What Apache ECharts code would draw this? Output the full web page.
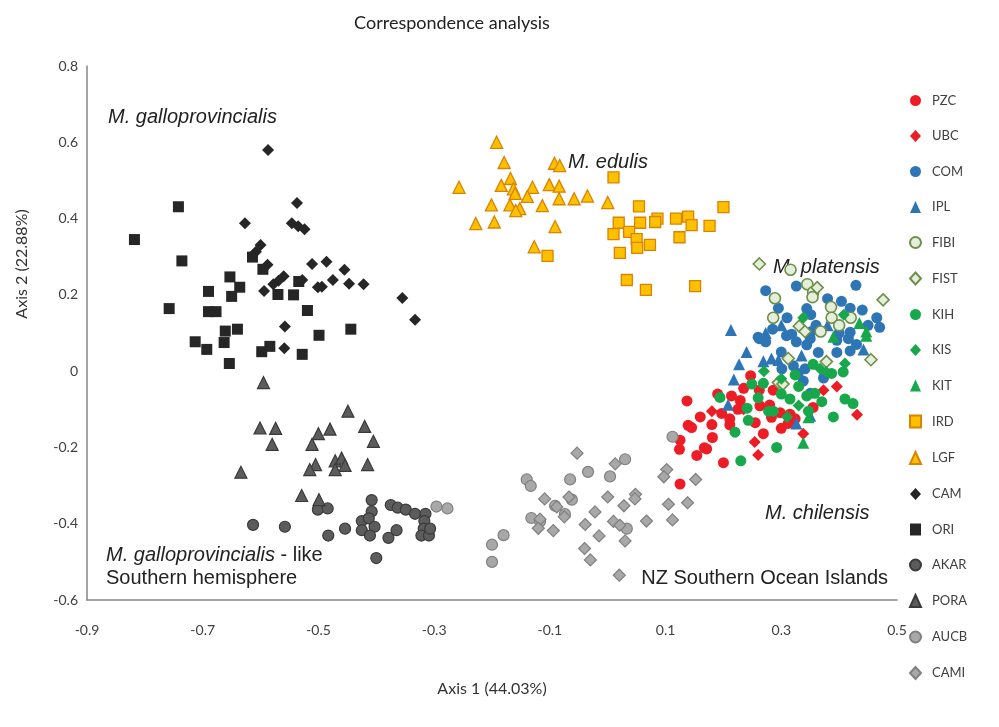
<!DOCTYPE html>
<html>
<head>
<meta charset="utf-8">
<script src="https://cdn.jsdelivr.net/npm/echarts@6/dist/echarts.min.js"></script>
<style>html,body{margin:0;padding:0;background:#fff}#c{width:999px;height:727px}</style>
</head>
<body>
<div id="c"></div>
<script>
const seriesNames = ['PZC','UBC','COM','IPL','FIBI','FIST','KIH','KIS','KIT','IRD','LGF','CAM','ORI','AKAR','PORA','AUCB','CAMI'];
const xTickLabels = ['-0.9','-0.7','-0.5','-0.3','-0.1','0.1','0.3','0.5'];

const PZC = [[0.137,-0.078],[0.139,-0.142],[0.145,-0.148],[0.125,-0.181],[0.124,-0.205],[0.154,-0.221],[0.125,-0.296],[0.167,-0.201],
 [0.247,-0.012],[0.262,-0.050],[0.214,-0.065],[0.229,-0.077],[0.197,-0.111],[0.211,-0.125],[0.211,-0.141],[0.263,-0.091],[0.283,-0.121],
 [0.269,-0.164],[0.181,-0.174],[0.171,-0.204],[0.286,-0.050],[0.280,-0.089],[0.298,-0.109],[0.315,-0.113],[0.324,-0.125],[0.312,-0.137],
 [0.200,-0.240],[0.355,-0.095],[0.190,-0.060],[0.235,-0.045],[0.255,-0.135],[0.225,-0.100],[0.300,-0.150],[0.160,-0.120],[0.180,-0.140]];
const UBC = [[0.180,-0.105],[0.254,-0.186],[0.396,-0.040],[0.373,-0.050],[0.431,-0.114],[0.338,-0.164],[0.260,-0.220],[0.235,-0.100]];
const COM = [[0.273,0.211],[0.260,0.089],[0.326,0.223],[0.429,0.225],[0.295,0.165],[0.344,0.164],[0.351,0.148],[0.404,0.183],[0.419,0.165],
 [0.450,0.120],[0.352,0.104],[0.419,0.102],[0.318,0.097],[0.262,0.085],[0.273,0.077],[0.309,0.093],[0.326,0.077],[0.350,0.085],[0.396,0.081],
 [0.416,0.085],[0.344,0.069],[0.364,0.049],[0.396,0.049],[0.419,0.053],[0.301,0.006],[0.321,0.014],[0.329,-0.006],[0.341,0.006],[0.338,-0.026],
 [0.373,-0.018],[0.350,-0.058],[0.465,0.140],[0.470,0.115],[0.380,0.190],[0.310,0.140],[0.440,0.160],[0.360,0.120],[0.400,0.100],
 [0.300,0.050],[0.430,0.070],[0.285,0.110]];
const IPL = [[0.213,0.108],[0.273,0.100],[0.227,0.018],[0.269,0.026],[0.283,0.033],[0.218,-0.022],[0.208,-0.088],[0.295,0.029],[0.335,0.041],
 [0.442,0.057],[0.326,-0.137],[0.350,-0.117],[0.380,0.120],[0.240,0.050],[0.300,0.120]];
const FIBI = [[0.289,0.191],[0.286,0.140],[0.316,0.266],[0.345,0.228],[0.355,0.207],[0.354,0.194],[0.386,0.168],[0.387,0.140],[0.368,0.104],
 [0.400,0.120],[0.420,0.140]];
const FIST = [[0.262,0.281],[0.362,0.219],[0.476,0.187],[0.331,0.118],[0.341,0.104],[0.312,0.033],[0.378,0.025],[0.455,0.030],[0.295,-0.030],[0.303,-0.034]];
const KIH = [[0.249,-0.034],[0.269,-0.032],[0.194,-0.069],[0.241,-0.097],[0.243,-0.129],[0.278,-0.105],[0.324,-0.010],[0.355,0.018],[0.387,-0.006],
 [0.407,-0.002],[0.315,-0.073],[0.344,-0.065],[0.358,-0.058],[0.347,-0.105],[0.410,-0.073],[0.424,-0.085],[0.286,-0.105],[0.292,-0.200],[0.230,-0.235],
 [0.300,-0.060],[0.330,-0.040],[0.370,-0.080],[0.260,-0.070],[0.390,-0.120],[0.220,-0.160]];
const KIS = [[0.338,0.140],[0.408,0.148],[0.367,0.006],[0.378,-0.002],[0.300,-0.020],[0.270,0.000],[0.330,-0.090],[0.310,-0.120],[0.410,0.020]];
const KIT = [[0.435,0.126],[0.447,0.104],[0.447,0.093],[0.347,-0.121],[0.338,-0.188],[0.390,0.090]];
const IRD = [[0.010,0.508],[0.054,0.432],[0.019,0.389],[0.056,0.389],[0.086,0.400],[0.082,0.391],[0.118,0.400],[0.139,0.405],[0.145,0.383],
 [0.176,0.381],[0.010,0.359],[0.037,0.365],[0.050,0.346],[0.051,0.323],[0.073,0.331],[0.124,0.351],[0.021,0.310],[-0.104,0.302],[0.033,0.239],
 [0.066,0.213],[0.151,0.223],[0.200,0.430]];
const LGF = [[-0.192,0.600],[-0.179,0.547],[-0.092,0.545],[-0.083,0.539],[-0.168,0.505],[-0.184,0.487],[-0.163,0.478],[-0.160,0.466],[-0.130,0.482],
 [-0.139,0.458],[-0.101,0.489],[-0.084,0.485],[-0.257,0.482],[-0.201,0.436],[-0.169,0.436],[-0.152,0.426],[-0.159,0.421],[-0.113,0.434],
 [-0.084,0.452],[-0.058,0.452],[-0.035,0.459],[0.000,0.442],[-0.228,0.387],[-0.196,0.391],[-0.091,0.379],[-0.127,0.326]];
const CAM = [[-0.587,0.580],[-0.537,0.441],[-0.627,0.388],[-0.546,0.388],[-0.535,0.380],[-0.524,0.372],[-0.600,0.331],[-0.608,0.313],[-0.588,0.279],
 [-0.511,0.281],[-0.486,0.287],[-0.455,0.266],[-0.560,0.249],[-0.569,0.237],[-0.578,0.228],[-0.528,0.239],[-0.475,0.239],[-0.494,0.221],
 [-0.501,0.220],[-0.447,0.229],[-0.422,0.228],[-0.594,0.210],[-0.558,0.117],[-0.355,0.192],[-0.333,0.135],[-0.559,0.060]];
const ORI = [[-0.742,0.431],[-0.818,0.345],[-0.736,0.289],[-0.653,0.247],[-0.614,0.299],[-0.596,0.267],[-0.636,0.220],[-0.650,0.196],[-0.690,0.209],
 [-0.570,0.201],[-0.543,0.200],[-0.534,0.235],[-0.758,0.164],[-0.690,0.156],[-0.677,0.156],[-0.519,0.159],[-0.661,0.105],[-0.640,0.110],
 [-0.444,0.110],[-0.499,0.094],[-0.713,0.077],[-0.693,0.057],[-0.663,0.075],[-0.598,0.051],[-0.584,0.065],[-0.528,0.044],[-0.654,0.020]];
const AKAR = [[-0.613,-0.403],[-0.558,-0.408],[-0.501,-0.363],[-0.484,-0.360],[-0.408,-0.338],[-0.408,-0.368],[-0.375,-0.351],[-0.363,-0.358],
 [-0.349,-0.363],[-0.333,-0.374],[-0.315,-0.374],[-0.483,-0.431],[-0.454,-0.413],[-0.425,-0.393],[-0.413,-0.386],[-0.403,-0.408],[-0.425,-0.417],
 [-0.411,-0.431],[-0.379,-0.437],[-0.365,-0.417],[-0.317,-0.393],[-0.318,-0.413],[-0.322,-0.431],[-0.309,-0.431],[-0.307,-0.413],[-0.400,-0.490]];
const PORA = [[-0.595,-0.030],[-0.449,-0.105],[-0.601,-0.149],[-0.574,-0.150],[-0.480,-0.152],[-0.500,-0.164],[-0.420,-0.145],[-0.580,-0.192],
 [-0.511,-0.192],[-0.405,-0.184],[-0.634,-0.265],[-0.505,-0.245],[-0.515,-0.258],[-0.471,-0.235],[-0.460,-0.228],[-0.454,-0.247],[-0.471,-0.258],
 [-0.415,-0.245],[-0.529,-0.326],[-0.499,-0.337]];
const AUCB = [[0.030,-0.231],[-0.034,-0.264],[-0.065,-0.284],[0.004,-0.276],[-0.140,-0.284],[-0.133,-0.301],[0.112,-0.172],[-0.062,-0.337],
 [-0.091,-0.353],[-0.074,-0.375],[-0.132,-0.385],[-0.117,-0.394],[0.033,-0.413],[-0.180,-0.430],[-0.296,-0.355],[-0.277,-0.360],[-0.200,-0.455],[-0.200,-0.500]];
const CAMI = [[-0.053,-0.215],[0.013,-0.243],[0.102,-0.258],[0.097,-0.277],[0.152,-0.284],[-0.109,-0.335],[-0.067,-0.330],[0.000,-0.330],[0.048,-0.323],
 [0.047,-0.335],[0.105,-0.349],[0.138,-0.345],[-0.088,-0.356],[-0.022,-0.369],[0.028,-0.353],[-0.117,-0.388],[-0.120,-0.412],[-0.075,-0.382],
 [-0.039,-0.402],[0.010,-0.394],[0.021,-0.404],[0.067,-0.393],[0.112,-0.390],[-0.094,-0.418],[-0.015,-0.432],[-0.040,-0.465],[-0.030,-0.495],
 [0.020,-0.535],[0.030,-0.445]];

const seriesData = {PZC, UBC, COM, IPL, FIBI, FIST, KIH, KIS, KIT, IRD, LGF, CAM, ORI, AKAR, PORA, AUCB, CAMI};

const RED = '#ee1c24', BLUE = '#2e75b6', GREEN = '#16a84a', LIGHT = '#e3efd8', LIGHTB = '#6f8e4c',
      ORANGE = '#ffc000', ORANGEB = '#d88400', BLACK = '#262626', DGRAY = '#5c5c5c', DGRAYB = '#3a3a3a',
      LGRAY = '#a8a8a8', LGRAYB = '#808080';
const styleOf = {
  PZC: ['circle', 11, RED, RED, 0],
  UBC: ['diamond', 12, RED, RED, 0],
  COM: ['circle', 11, BLUE, BLUE, 0],
  IPL: ['triangle', 12, BLUE, BLUE, 0],
  FIBI: ['circle', 11, LIGHT, LIGHTB, 1.6],
  FIST: ['diamond', 12, LIGHT, LIGHTB, 1.6],
  KIH: ['circle', 11, GREEN, GREEN, 0],
  KIS: ['diamond', 12, GREEN, GREEN, 0],
  KIT: ['triangle', 12, GREEN, GREEN, 0],
  IRD: ['rect', 11, ORANGE, ORANGEB, 1.3],
  LGF: ['triangle', 12, ORANGE, ORANGEB, 1.3],
  CAM: ['diamond', 12, BLACK, BLACK, 0],
  ORI: ['rect', 11, BLACK, BLACK, 0],
  AKAR: ['circle', 11, DGRAY, DGRAYB, 1.2],
  PORA: ['triangle', 12, DGRAY, DGRAYB, 1.2],
  AUCB: ['circle', 11, LGRAY, LGRAYB, 1.2],
  CAMI: ['diamond', 12, LGRAY, LGRAYB, 1.2]
};

const series = seriesNames.map(n => {
  const s = styleOf[n];
  return {
    name: n, type: 'scatter', data: seriesData[n],
    symbol: s[0], symbolSize: s[1],
    itemStyle: {color: s[2], borderColor: s[3], borderWidth: s[4], opacity: 1},
    emphasis: {disabled: true}
  };
});

const chart = echarts.init(document.getElementById('c'), null, {renderer: 'canvas'});
const LBL = 'Lato, "Open Sans", sans-serif';
const ANN = '"Liberation Sans", Arial, sans-serif';
const AF = 20;
chart.setOption({
  animation: false,
  backgroundColor: '#ffffff',
  title: {
    text: 'Correspondence analysis', left: 447, top: 9, textAlign: 'center',
    textStyle: {fontFamily: LBL, fontSize: 18, fontWeight: 'normal', color: '#222'}
  },
  grid: {left: 87, right: 102, top: 66, bottom: 127, containLabel: false},
  xAxis: {
    type: 'value', min: -0.9, max: 0.5, interval: 0.1,
    name: 'Axis 1 (44.03%)', nameLocation: 'middle', nameGap: 81,
    nameTextStyle: {fontFamily: LBL, fontSize: 16, color: '#333'},
    axisLine: {onZero: false, lineStyle: {color: '#868686', width: 1.5}},
    axisTick: {show: false},
    splitLine: {show: false},
    axisLabel: {
      margin: 23, fontFamily: LBL, fontSize: 14, color: '#404040',
      formatter: v => { const t = (Math.round(v * 10) / 10).toFixed(1); return xTickLabels.includes(t) ? t : ''; }
    }
  },
  yAxis: {
    type: 'value', min: -0.6, max: 0.8, interval: 0.2,
    axisLine: {show: true, onZero: false, lineStyle: {color: '#868686', width: 1.5}},
    axisTick: {show: false},
    splitLine: {show: false},
    axisLabel: {margin: 9, fontFamily: LBL, fontSize: 14, color: '#404040',
      formatter: v => { const r = Math.round(v * 10) / 10; return r === 0 ? '0' : r.toFixed(1); }}
  },
  legend: {
    orient: 'vertical', left: 904, top: 89, itemWidth: 11, itemHeight: 12, itemGap: 22.5,
    data: seriesNames,
    textStyle: {fontFamily: LBL, fontSize: 13, color: '#404040', lineHeight: 12, padding: [0, 0, 0, 6]},
    selectedMode: false
  },
  graphic: [
    {type: 'text', x: 22, y: 264, rotation: Math.PI / 2,
     style: {text: 'Axis 2 (22.88%)', font: '16px ' + LBL, fill: '#333', textAlign: 'center', verticalAlign: 'middle'}},
    {type: 'text', x: 108, y: 117,
     style: {text: 'M. galloprovincialis', font: 'italic ' + AF + 'px ' + ANN, fill: '#222', verticalAlign: 'middle'}},
    {type: 'text', x: 568, y: 162,
     style: {text: 'M. edulis', font: 'italic ' + AF + 'px ' + ANN, fill: '#222', verticalAlign: 'middle'}},
    {type: 'text', x: 773, y: 267,
     style: {text: 'M. platensis', font: 'italic ' + AF + 'px ' + ANN, fill: '#222', verticalAlign: 'middle'}},
    {type: 'text', x: 765, y: 513,
     style: {text: 'M. chilensis', font: 'italic ' + AF + 'px ' + ANN, fill: '#222', verticalAlign: 'middle'}},
    {type: 'text', x: 106, y: 555,
     style: {text: '{i|M. galloprovincialis} - like', font: AF + 'px ' + ANN, fill: '#222', verticalAlign: 'middle',
       rich: {i: {fontStyle: 'italic', fontFamily: ANN, fontSize: AF, fill: '#222'}}}},
    {type: 'text', x: 106, y: 578,
     style: {text: 'Southern hemisphere', font: AF + 'px ' + ANN, fill: '#222', verticalAlign: 'middle'}},
    {type: 'text', x: 888, y: 578,
     style: {text: 'NZ Southern Ocean Islands', font: AF + 'px ' + ANN, fill: '#222', textAlign: 'right', verticalAlign: 'middle'}}
  ],
  series: series
});
</script>
</body>
</html>
